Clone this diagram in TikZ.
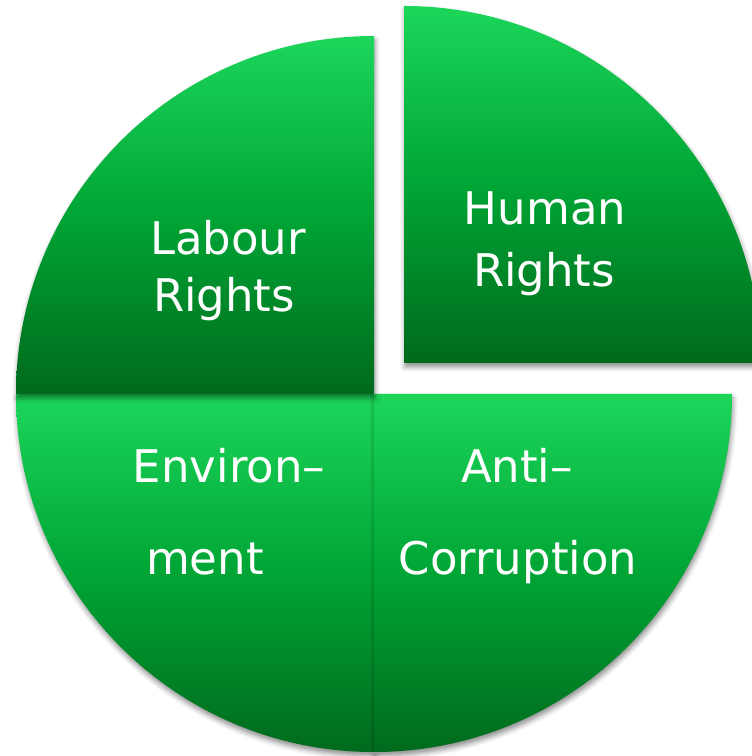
\documentclass[tikz,border=0pt]{standalone}
\usepackage{fontspec}
\setmainfont{DejaVu Sans}
\usetikzlibrary{shadows.blur}
\definecolor{gtop}{HTML}{1CD65A}
\definecolor{gmid}{HTML}{00A535}
\definecolor{gbot}{HTML}{006A1C}
\tikzset{
  slice/.style={top color=gtop, bottom color=gbot, middle color=gmid,
    blur shadow={shadow xshift=1pt, shadow yshift=-4pt, shadow blur radius=5pt, shadow opacity=45}},
  lbl/.style={text=white, font=\fontsize{45}{57}\selectfont, inner sep=0pt, anchor=base},
}
\begin{document}
\begin{tikzpicture}[x=1pt,y=1pt]
\useasboundingbox (0,0) rectangle (752,756);
\clip (0,0) rectangle (752,756);
% bottom-left: Environment
\path[slice] (374,362) -- (16,362) arc[start angle=180, end angle=270, radius=358] -- cycle;
% bottom-right: Anti-Corruption
\path[slice] (374,362) -- (374,4) arc[start angle=270, end angle=360, radius=358] -- cycle;
% top-left: Labour Rights
\path[slice] (374,362) -- (16,362) arc[start angle=180, end angle=90, radius=358] -- cycle;
% top-right (exploded): Human Rights
\path[slice] (404,393) -- (404,750) arc[start angle=90, end angle=0, radius=357] -- cycle;
% labels
\node[lbl] (lab1) at (228,501) {Labour};
\node[lbl] (lab2) at (224,444) {Rights};
\node[lbl] (hum1) at (545,531) {Human};
\node[lbl] (hum2) at (544,469) {Rights};
\node[lbl] (env1) at (229,273) {Environ–};
\node[lbl] (env2) at (205,181) {ment};
\node[lbl] (ant1) at (517,273) {Anti–};
\node[lbl] (ant2) at (518,181) {Corruption};
\end{tikzpicture}
\end{document}
